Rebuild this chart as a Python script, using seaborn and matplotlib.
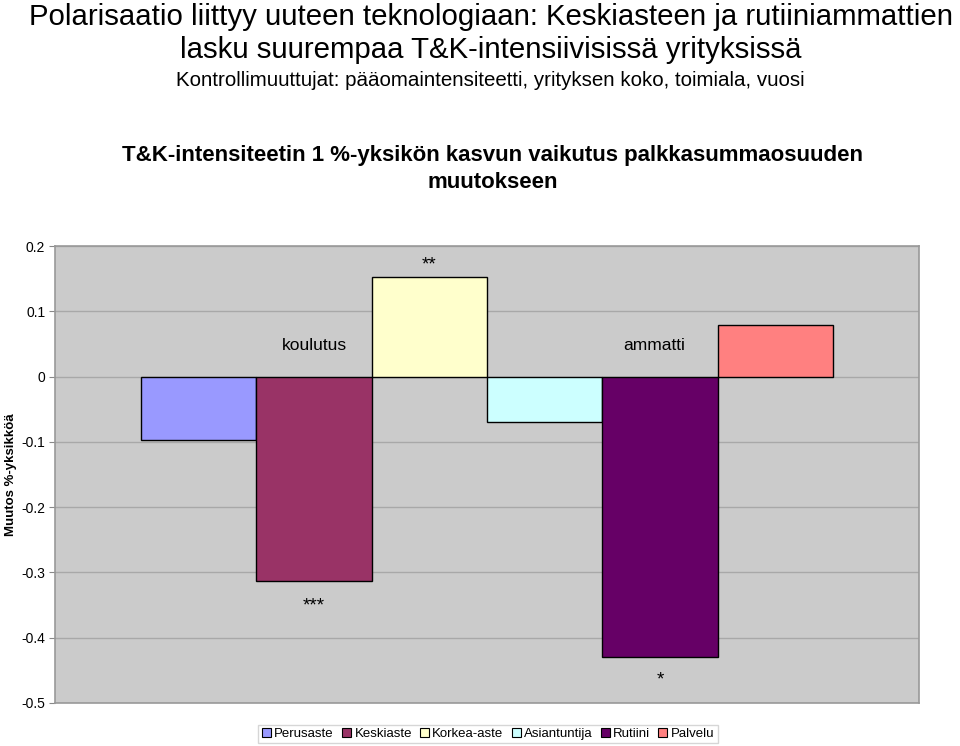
import pandas as pd
import matplotlib.pyplot as plt
import seaborn as sns
from matplotlib.patches import Patch

# Data
series = ['Perusaste', 'Keskiaste', 'Korkea-aste', 'Asiantuntija', 'Rutiini', 'Palvelu']
values = [-0.097, -0.313, 0.153, -0.070, -0.430, 0.079]
colors = ['#9999FF', '#993366', '#FFFFCC', '#CCFFFF', '#660066', '#FF8080']
stars = ['', '***', '**', '', '*', '']
star_y = [None, -0.351, 0.171, None, -0.464, None]
group_labels = ['koulutus', 'ammatti']
group_pos = [1.0, 3.95]

df = pd.DataFrame({'Sarja': series, 'Muutos': values})

plt.rcParams['font.family'] = ['Liberation Sans', 'DejaVu Sans']

fig = plt.figure(figsize=(9.6, 7.46), dpi=100)
ax = fig.add_axes([55 / 960, 1 - 703 / 746, 864 / 960, 457 / 746])

sns.barplot(data=df, x='Sarja', y='Muutos', hue='Sarja', order=series,
            palette=colors, saturation=1, width=1.0, edgecolor='black', linewidth=1.0,
            legend=False, ax=ax, zorder=3)

ax.set_facecolor('#CBCBCB')
ax.set_xlim(-1.246, 6.246)
ax.set_ylim(-0.5, 0.2)
ax.set_yticks([0.2, 0.1, 0, -0.1, -0.2, -0.3, -0.4, -0.5])
ax.set_yticklabels(['0.2', '0.1', '0', '-0.1', '-0.2', '-0.3', '-0.4', '-0.5'], fontsize=10)
ax.yaxis.grid(True, color='#A8A8A8', linewidth=1.0, zorder=0)
ax.set_axisbelow(True)
ax.set_xticks([])
ax.set_xlabel('')
ax.set_ylabel('Muutos %-yksikköä', fontsize=9.5, fontweight='bold')
ax.yaxis.set_label_coords(-38 / 864, 0.5)
ax.tick_params(axis='y', length=4, color='#888888', pad=3)
for s in ax.spines.values():
    s.set_color('#999999')
    s.set_linewidth(1.2)

# significance stars and group labels
for i, (st, sy) in enumerate(zip(stars, star_y)):
    if st:
        ax.text(i, sy, st, ha='center', va='center', fontsize=13.5)
for lbl, gx in zip(group_labels, group_pos):
    ax.text(gx, 0.047, lbl, ha='center', va='center', fontsize=12.5)

# titles
fig.text(0.511, 1 - 17 / 746, 'Polarisaatio liittyy uuteen teknologiaan: Keskiasteen ja rutiiniammattien',
         ha='center', va='center', fontsize=21.2)
fig.text(0.511, 1 - 50 / 746, 'lasku suurempaa T&K-intensiivisissä yrityksissä',
         ha='center', va='center', fontsize=21.2)
fig.text(0.511, 1 - 80 / 746, 'Kontrollimuuttujat: pääomaintensiteetti, yrityksen koko, toimiala, vuosi',
         ha='center', va='center', fontsize=14.8)
fig.text(0.513, 1 - 156 / 746, 'T&K-intensiteetin 1 %-yksikön kasvun vaikutus palkkasummaosuuden',
         ha='center', va='center', fontsize=16, fontweight='bold')
fig.text(0.513, 1 - 183 / 746, 'muutokseen',
         ha='center', va='center', fontsize=16, fontweight='bold')

handles = [Patch(facecolor=c, edgecolor='black', linewidth=0.8) for c in colors]
leg = fig.legend(handles, series, loc='center', bbox_to_anchor=(488 / 960, 1 - 734 / 746),
                 ncol=6, fontsize=9.5, frameon=True, fancybox=False,
                 handlelength=0.7, handleheight=0.7, handletextpad=0.25,
                 columnspacing=0.6, borderpad=0.25)
leg.get_frame().set_edgecolor('#CCCCCC')
leg.get_frame().set_linewidth(1.0)

plt.savefig('out.png', dpi=100)
